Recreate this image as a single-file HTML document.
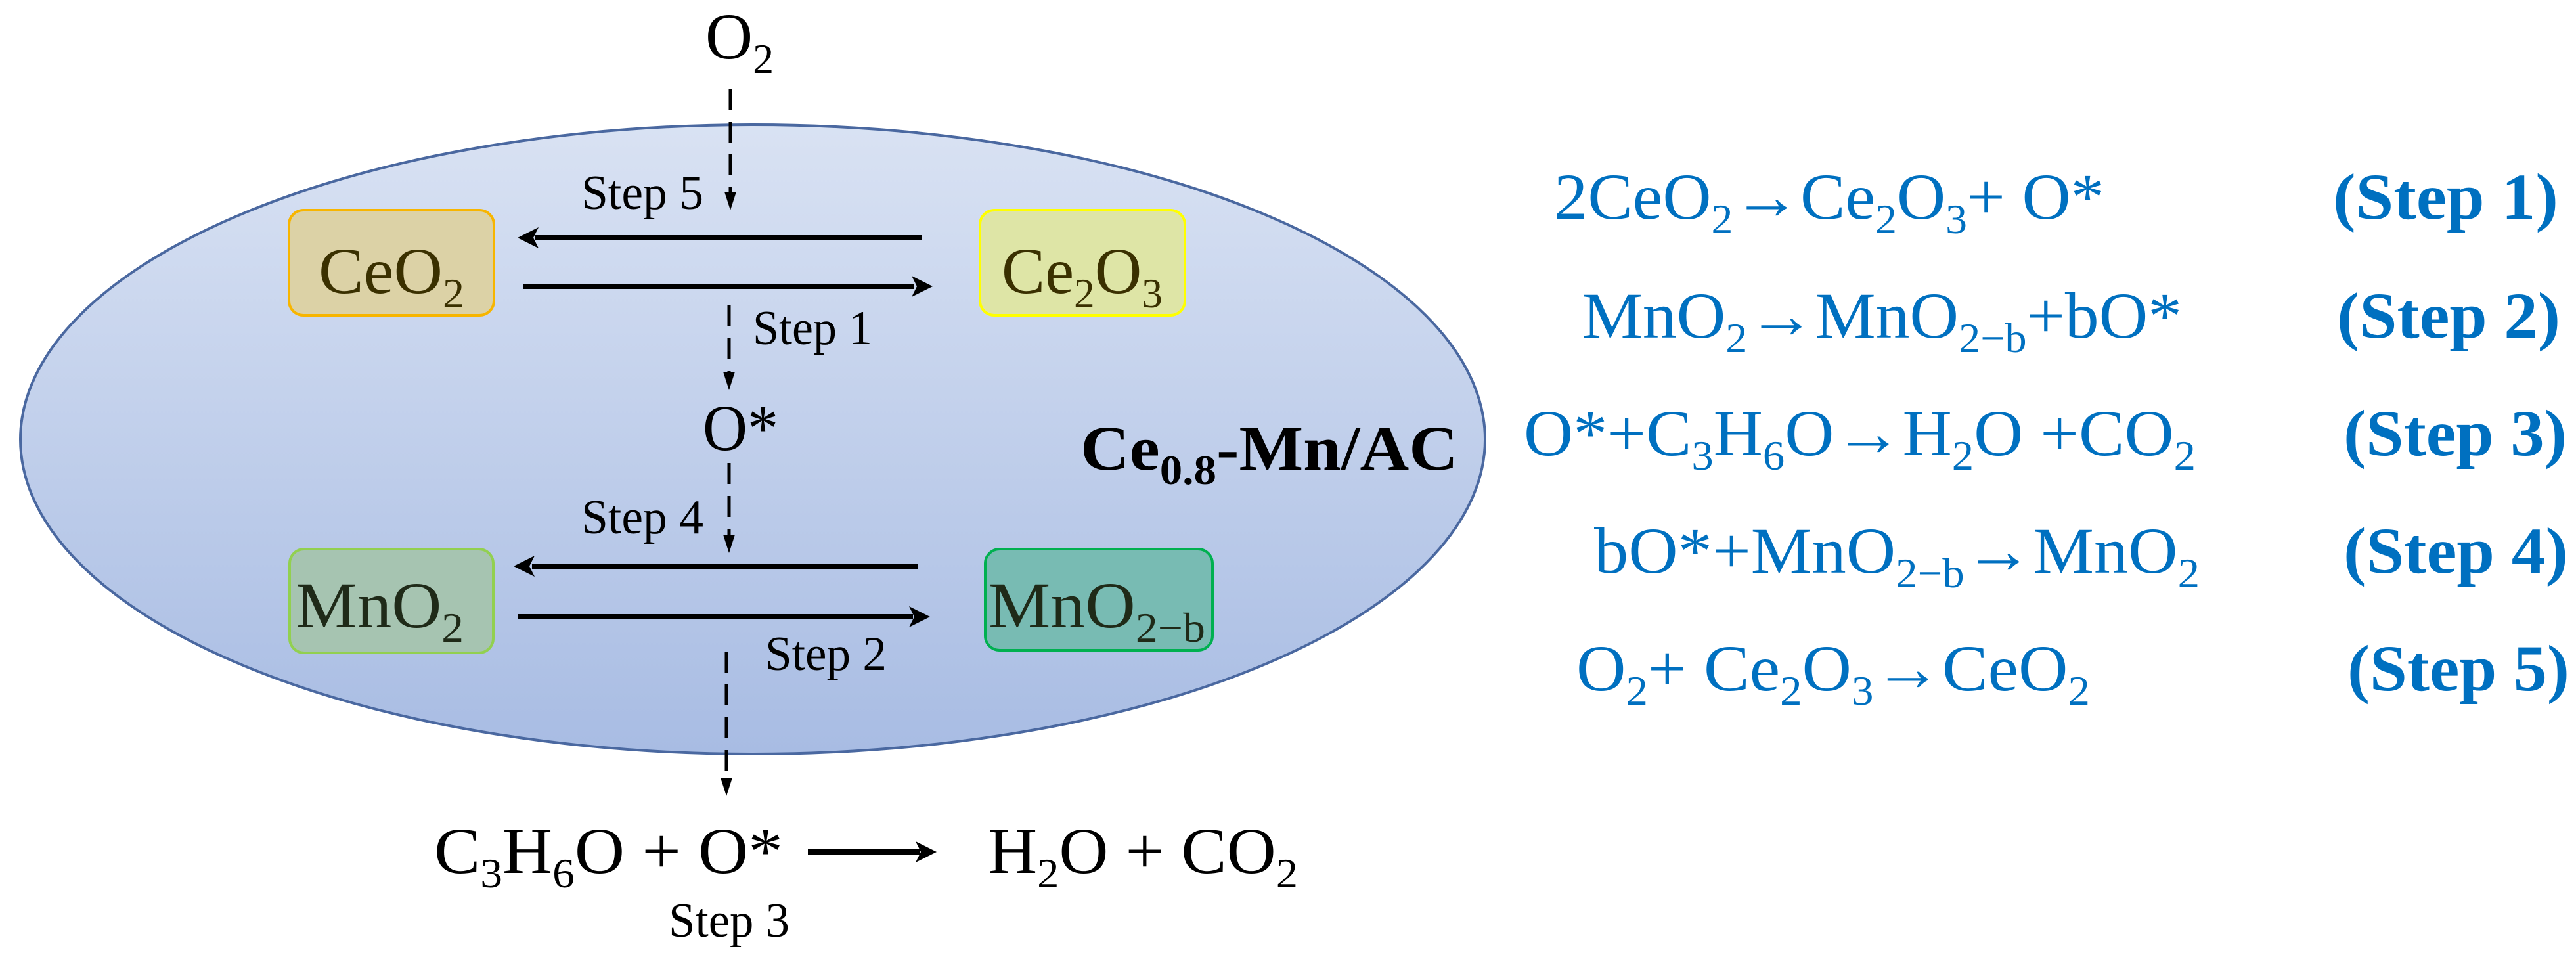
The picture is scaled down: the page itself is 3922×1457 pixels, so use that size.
<!DOCTYPE html>
<html><head><meta charset="utf-8"><style>
html,body{margin:0;padding:0;background:#fff;}
svg{display:block;}
text{font-family:"Liberation Serif","Times New Roman",serif;}
</style></head><body>
<svg width="3922" height="1457" viewBox="0 0 3922 1457" xmlns="http://www.w3.org/2000/svg" font-family="Liberation Serif, Times New Roman, serif">
<defs>
<linearGradient id="eg" x1="0" y1="0" x2="0" y2="1">
<stop offset="0" stop-color="#d9e2f3"/><stop offset="1" stop-color="#a8bce3"/>
</linearGradient>
</defs>
<ellipse cx="1146" cy="669" rx="1115" ry="479" fill="url(#eg)" stroke="#4a68a0" stroke-width="4"/>

<rect x="440" y="320" width="312" height="160" rx="22" fill="#dcd2a6" stroke="#f7b500" stroke-width="4"/>
<rect x="1492" y="320" width="312" height="160" rx="22" fill="#dee5a6" stroke="#ffff00" stroke-width="4"/>
<rect x="441" y="836" width="310" height="158" rx="22" fill="#a6c4b1" stroke="#92d050" stroke-width="4"/>
<rect x="1500" y="836" width="346" height="154" rx="22" fill="#78bbb3" stroke="#00b050" stroke-width="4"/>

<g font-size="100" fill="#3a3000">
<text x="485" y="446" textLength="222" lengthAdjust="spacingAndGlyphs">CeO<tspan font-size="64" dy="22">2</tspan></text>
<text x="1525" y="446" textLength="245" lengthAdjust="spacingAndGlyphs">Ce<tspan font-size="64" dy="22">2</tspan><tspan dy="-22">O</tspan><tspan font-size="64" dy="22">3</tspan></text>
</g>
<g font-size="100" fill="#1f2a18">
<text x="450" y="955" textLength="256" lengthAdjust="spacingAndGlyphs">MnO<tspan font-size="64" dy="22">2</tspan></text>
<text x="1505" y="955" textLength="330" lengthAdjust="spacingAndGlyphs">MnO<tspan font-size="64" dy="22">2−b</tspan></text>
</g>

<g stroke="#000" stroke-width="8" fill="none">
<line x1="1403" y1="362" x2="815" y2="362"/>
<line x1="797" y1="436" x2="1392" y2="436"/>
<line x1="1398" y1="862" x2="810" y2="862"/>
<line x1="789" y1="939" x2="1390" y2="939"/>
<line x1="1230" y1="1297" x2="1400" y2="1297"/>
</g>
<g fill="#000">
<polygon points="788,362 820,346 812,362 820,378"/>
<polygon points="1420,436 1388,420 1396,436 1388,452"/>
<polygon points="782,862 814,846 806,862 814,878"/>
<polygon points="1416,939 1384,923 1392,939 1384,955"/>
<polygon points="1426,1297 1394,1281 1402,1297 1394,1313"/>
</g>

<g stroke="#000" stroke-width="5" stroke-dasharray="32 18" fill="none">
<line x1="1112" y1="135" x2="1112" y2="295"/>
<line x1="1110" y1="465" x2="1110" y2="570"/>
<line x1="1110" y1="705" x2="1110" y2="820"/>
<line x1="1106" y1="992" x2="1106" y2="1190"/>
</g>
<g fill="#000">
<polygon points="1112,320 1103,292 1121,292"/>
<polygon points="1110,594 1101,566 1119,566"/>
<polygon points="1110,842 1101,814 1119,814"/>
<polygon points="1106,1212 1097,1184 1115,1184"/>
</g>

<g fill="#000" font-size="74">
<text x="885" y="318" textLength="186" lengthAdjust="spacingAndGlyphs">Step 5</text>
<text x="1146" y="524" textLength="182" lengthAdjust="spacingAndGlyphs">Step 1</text>
<text x="885" y="812" textLength="186" lengthAdjust="spacingAndGlyphs">Step 4</text>
<text x="1165" y="1020" textLength="185" lengthAdjust="spacingAndGlyphs">Step 2</text>
<text x="1018" y="1426" textLength="184" lengthAdjust="spacingAndGlyphs">Step 3</text>
</g>
<g fill="#000" font-size="100">
<text x="1074" y="89" textLength="104" lengthAdjust="spacingAndGlyphs">O<tspan font-size="64" dy="22">2</tspan></text>
<text x="1070" y="685" textLength="115" lengthAdjust="spacingAndGlyphs">O*</text>
<text x="661" y="1329" textLength="531" lengthAdjust="spacingAndGlyphs">C<tspan font-size="64" dy="22">3</tspan><tspan dy="-22">H</tspan><tspan font-size="64" dy="22">6</tspan><tspan dy="-22">O + O*</tspan></text>
<text x="1504" y="1329" textLength="472" lengthAdjust="spacingAndGlyphs">H<tspan font-size="64" dy="22">2</tspan><tspan dy="-22">O + CO</tspan><tspan font-size="64" dy="22">2</tspan></text>
</g>
<text x="1645" y="715" font-size="96" font-weight="bold" fill="#000" textLength="575" lengthAdjust="spacingAndGlyphs">Ce<tspan font-size="64" dy="22">0.8</tspan><tspan dy="-22">-Mn/AC</tspan></text>

<g fill="#0070c0" font-size="100">
<text x="2366" y="333" textLength="838" lengthAdjust="spacingAndGlyphs">2CeO<tspan font-size="64" dy="22">2</tspan><tspan dy="-22">→Ce</tspan><tspan font-size="64" dy="22">2</tspan><tspan dy="-22">O</tspan><tspan font-size="64" dy="22">3</tspan><tspan dy="-22">+ O*</tspan></text>
<text x="2409" y="514" textLength="913" lengthAdjust="spacingAndGlyphs">MnO<tspan font-size="64" dy="22">2</tspan><tspan dy="-22">→MnO</tspan><tspan font-size="64" dy="22">2−b</tspan><tspan dy="-22">+bO*</tspan></text>
<text x="2320" y="693" textLength="1023" lengthAdjust="spacingAndGlyphs">O*+C<tspan font-size="64" dy="22">3</tspan><tspan dy="-22">H</tspan><tspan font-size="64" dy="22">6</tspan><tspan dy="-22">O→H</tspan><tspan font-size="64" dy="22">2</tspan><tspan dy="-22">O +CO</tspan><tspan font-size="64" dy="22">2</tspan></text>
<text x="2427" y="872" textLength="922" lengthAdjust="spacingAndGlyphs">bO*+MnO<tspan font-size="64" dy="22">2−b</tspan><tspan dy="-22">→MnO</tspan><tspan font-size="64" dy="22">2</tspan></text>
<text x="2400" y="1051" textLength="782" lengthAdjust="spacingAndGlyphs">O<tspan font-size="64" dy="22">2</tspan><tspan dy="-22">+ Ce</tspan><tspan font-size="64" dy="22">2</tspan><tspan dy="-22">O</tspan><tspan font-size="64" dy="22">3</tspan><tspan dy="-22">→CeO</tspan><tspan font-size="64" dy="22">2</tspan></text>
</g>
<g fill="#0070c0" font-size="100" font-weight="bold">
<text x="3552" y="333" textLength="343" lengthAdjust="spacingAndGlyphs">(Step 1)</text>
<text x="3558" y="514" textLength="340" lengthAdjust="spacingAndGlyphs">(Step 2)</text>
<text x="3568" y="693" textLength="340" lengthAdjust="spacingAndGlyphs">(Step 3)</text>
<text x="3568" y="872" textLength="342" lengthAdjust="spacingAndGlyphs">(Step 4)</text>
<text x="3574" y="1051" textLength="338" lengthAdjust="spacingAndGlyphs">(Step 5)</text>
</g>
</svg>
</body></html>
